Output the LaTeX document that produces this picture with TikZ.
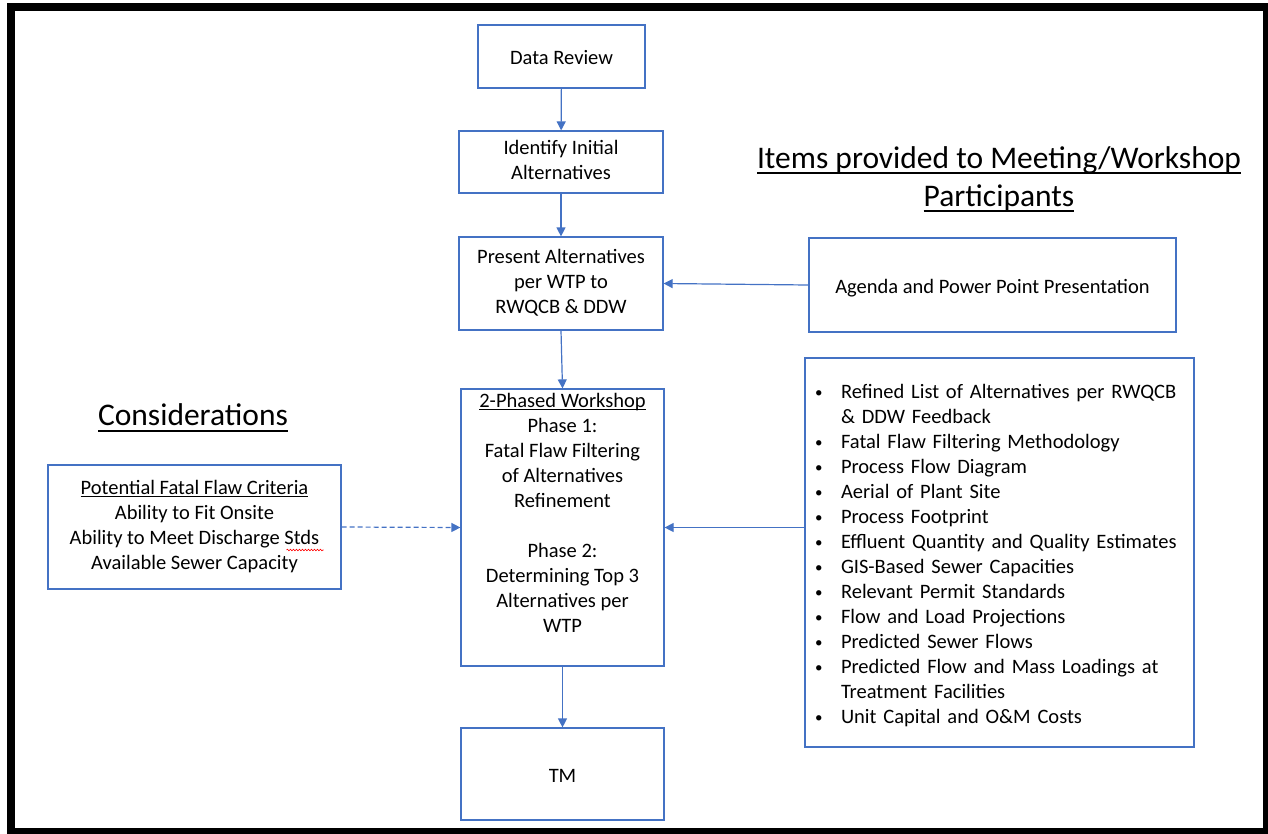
\documentclass[tikz,border=0pt]{standalone}
\usepackage{fontspec}
\setmainfont{Carlito}
\usetikzlibrary{arrows.meta,decorations.pathmorphing}

% struts that sit the text as the reference does
\newcommand{\boxstrut}{\rule[-4.5pt]{0pt}{25pt}}
\newcommand{\titlestrut}{\rule[-11pt]{0pt}{38pt}}
% underline at a fixed depth below the baseline
\newsavebox{\ulinebox}
\newcommand{\ulined}[3]{\sbox{\ulinebox}{#3}\rlap{\rule[-#1]{\wd\ulinebox}{#2}}\usebox{\ulinebox}}

\newenvironment{itemlist}{\begin{list}{\raisebox{0.15ex}{\fontsize{15}{15}\selectfont\textbullet}}{%
  \setlength{\leftmargin}{26pt}\setlength{\labelwidth}{16pt}\setlength{\labelsep}{10pt}%
  \setlength{\itemsep}{0pt}\setlength{\parsep}{0pt}\setlength{\topsep}{0pt}\setlength{\partopsep}{0pt}%
  \renewcommand{\makelabel}[1]{##1\hfil}}}{\end{list}}

\begin{document}
\begin{tikzpicture}[x=1pt,y=-1pt,
  frame/.style={draw=boxblue,line width=1.2pt,inner sep=2pt,font=\fontsize{20.5}{25}\selectfont},
  box/.style={frame,align=center,execute at begin node=\boxstrut,execute at end node=\boxstrut},
  flow/.style={draw=boxblue,line width=1.2pt,-{Triangle[length=9pt,width=9pt]}},
  title/.style={align=center,inner sep=0pt,font=\fontsize{31.5}{38}\selectfont,
    execute at begin node=\titlestrut,execute at end node=\titlestrut}]
\definecolor{boxblue}{HTML}{4472C4}
\useasboundingbox (0,0) rectangle (1268,833);
\draw[line width=8pt] (11,7) rectangle (1267,832);

% main column
\node[box,minimum width=167pt,minimum height=63pt] (data) at (561.5,56.5) {Data Review};
\node[box,minimum width=204pt,minimum height=62pt] (ident) at (561,162) {Identify Initial\\Alternatives};
\node[box,minimum width=204pt,minimum height=93pt] (present) at (561,283.5) {Present Alternatives\\per WTP to\\RWQCB \& DDW};
\node[box,minimum width=203pt,minimum height=277pt] (shop) at (562.5,527.5) {\ulined{3pt}{1.1pt}{2-Phased Workshop}\\Phase 1:\\Fatal Flaw Filtering\\of Alternatives\\Refinement\\[25pt]Phase 2:\\Determining Top 3\\Alternatives per\\WTP\\ };
\node[box,minimum width=203pt,minimum height=92pt] (tm) at (562.5,774) {TM};

% left side
\node[title] (consid) at (193,417) {\ulined{7pt}{2pt}{Considerations}};
\node[box,minimum width=293pt,minimum height=124pt] (crit) at (194.5,527) {\ulined{3pt}{1.1pt}{Potential Fatal Flaw Criteria}\\Ability to Fit Onsite\\Ability to Meet Discharge Stds\\Available Sewer Capacity};
\draw[red,line width=0.6pt,decorate,decoration={snake,amplitude=0.8pt,segment length=3pt}] ([shift={(92,23)}]crit.center) -- ([shift={(129,23)}]crit.center);

% right side
\node[title] (provided) at (999,182) {\ulined{6pt}{2pt}{Items provided to Meeting/Workshop}\\\ulined{6pt}{2pt}{Participants}};
\node[box,minimum width=367pt,minimum height=94pt] (agenda) at (992.5,285) {Agenda and Power Point Presentation};
\node[frame,align=left,text width=369pt,inner xsep=10pt,minimum height=389pt] (items) at (999.5,552.5) {%
\begin{itemlist}
\item \strut Refined List of Alternatives per RWQCB\newline \& DDW Feedback
\item Fatal Flaw Filtering Methodology
\item Process Flow Diagram
\item Aerial of Plant Site
\item Process Footprint
\item Effluent Quantity and Quality Estimates
\item GIS-Based Sewer Capacities
\item Relevant Permit Standards
\item Flow and Load Projections
\item Predicted Sewer Flows
\item Predicted Flow and Mass Loadings at\newline Treatment Facilities
\item Unit Capital and O\&M Costs\strut
\end{itemlist}};

% connectors
\draw[flow] (data) -- (ident);
\draw[flow] (ident) -- (present);
\draw[flow] (present.south) -- (shop.north);
\draw[flow] (shop) -- (tm);
\draw[flow] (agenda.west) -- (present.east);
\draw[flow] (items.west |- shop.east) -- (shop.east);
\draw[flow,dash pattern=on 5pt off 3pt] (crit.east) -- (shop.west);
\end{tikzpicture}
\end{document}
